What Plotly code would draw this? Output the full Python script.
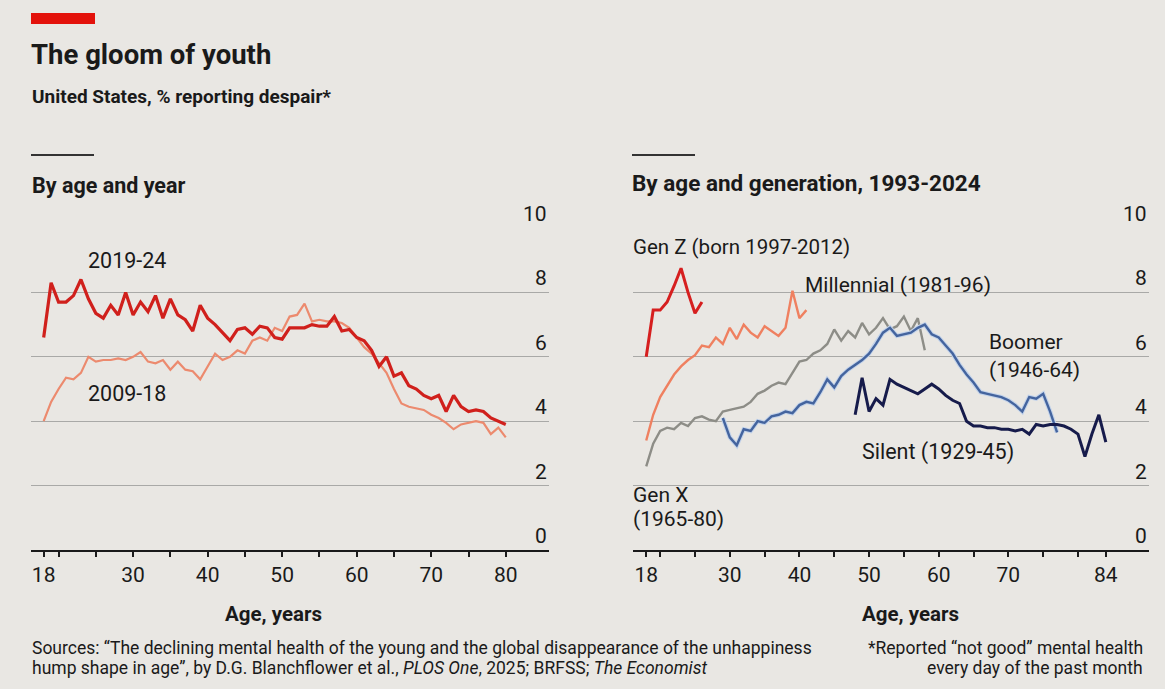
import plotly.graph_objects as go

W, H = 1165, 689

# ---------------- data ----------------
ages_by_year = list(range(18, 81))
despair_2019_24 = [6.6, 8.3, 7.7, 7.7, 7.9, 8.4, 7.8, 7.35, 7.2, 7.6,
                   7.3, 8.0, 7.3, 7.7, 7.4, 7.9, 7.2, 7.8, 7.3, 7.15,
                   6.8, 7.6, 7.2, 7.0, 6.75, 6.5, 6.85, 6.9, 6.7, 6.95,
                   6.9, 6.6, 6.55, 6.9, 6.9, 6.9, 7.0, 6.95, 6.95, 7.25,
                   6.8, 6.85, 6.6, 6.5, 6.2, 5.7, 6.0, 5.4, 5.5, 5.1,
                   5.0, 4.8, 4.7, 4.8, 4.3, 4.8, 4.45, 4.3, 4.35, 4.3,
                   4.1, 4.0, 3.9]
despair_2009_18 = [4.0, 4.6, 5.0, 5.35, 5.3, 5.5, 6.0, 5.85, 5.9, 5.9,
                   5.95, 5.9, 6.0, 6.15, 5.85, 5.8, 5.9, 5.6, 5.85, 5.6,
                   5.55, 5.3, 5.7, 6.1, 5.9, 6.0, 6.2, 6.1, 6.5, 6.6,
                   6.5, 6.9, 6.8, 7.25, 7.3, 7.65, 7.1, 7.15, 7.1, 7.1,
                   7.05, 6.9, 6.6, 6.3, 6.1, 5.8, 5.5, 5.0, 4.55, 4.45,
                   4.4, 4.35, 4.2, 4.1, 3.95, 3.75, 3.9, 3.95, 4.0, 3.95,
                   3.6, 3.8, 3.5]

genz_ages = list(range(18, 27))
genz = [6.0, 7.45, 7.45, 7.7, 8.2, 8.75, 8.0, 7.35, 7.7]

millennial_ages = list(range(18, 42))
millennial = [3.4, 4.2, 4.75, 5.1, 5.45, 5.7, 5.9, 6.05, 6.35, 6.3,
              6.6, 6.4, 6.9, 6.55, 7.0, 6.75, 6.6, 6.95, 6.8, 6.65,
              6.9, 8.05, 7.2, 7.45]

genx_ages = list(range(18, 59))
genx = [2.6, 3.3, 3.7, 3.8, 3.75, 3.95, 3.85, 4.1, 4.15, 4.05,
        4.0, 4.3, 4.35, 4.4, 4.45, 4.6, 4.85, 4.95, 5.1, 5.2,
        5.15, 5.5, 5.85, 5.9, 6.1, 6.2, 6.4, 6.85, 6.5, 6.8,
        6.6, 7.05, 6.7, 6.9, 7.2, 6.85, 6.95, 7.25, 6.8, 7.2,
        6.2]

boomer_ages = list(range(29, 78))
boomer = [4.1, 3.5, 3.25, 3.75, 3.7, 4.0, 3.95, 4.15, 4.2, 4.3,
          4.25, 4.5, 4.6, 4.55, 4.9, 5.3, 5.05, 5.4, 5.6, 5.75,
          5.9, 6.1, 6.4, 6.75, 6.9, 6.65, 6.7, 6.75, 6.9, 7.0,
          6.7, 6.6, 6.35, 6.1, 5.75, 5.45, 5.2, 4.9, 4.85, 4.8,
          4.75, 4.65, 4.5, 4.3, 4.75, 4.7, 4.85, 4.3, 3.65]

silent_ages = list(range(48, 85))
silent = [4.2, 5.35, 4.3, 4.7, 4.5, 5.3, 5.15, 5.05, 4.95, 4.85,
          5.0, 5.15, 5.0, 4.8, 4.65, 4.55, 4.0, 3.85, 3.85, 3.8,
          3.8, 3.75, 3.75, 3.7, 3.75, 3.6, 3.9, 3.85, 3.9, 3.9,
          3.85, 3.75, 3.6, 2.9, 3.6, 4.2, 3.35]

y_ticks = [0, 2, 4, 6, 8, 10]
left_tickvals = [18, 20, 25, 30, 35, 40, 45, 50, 55, 60, 65, 70, 75, 80]
left_labelled = [18, 30, 40, 50, 60, 70, 80]
right_tickvals = [18, 20, 25, 30, 35, 40, 45, 50, 55, 60, 65, 70, 75, 80, 84]
right_labelled = [18, 30, 40, 50, 60, 70, 84]

# ---------------- style ----------------
BG = "#e9e7e3"
INK = "#1a1a1a"
FONT = "Roboto, 'Liberation Sans', sans-serif"


def px(x):
    return x / W


def py(y):
    return 1 - y / H


fig = go.Figure()

fig.add_trace(go.Scatter(x=ages_by_year, y=despair_2009_18, mode="lines",
                         line=dict(color="#ec8a6e", width=2.2),
                         xaxis="x", yaxis="y", showlegend=False))
fig.add_trace(go.Scatter(x=ages_by_year, y=despair_2019_24, mode="lines",
                         line=dict(color="#d0201c", width=3.2),
                         xaxis="x", yaxis="y", showlegend=False))

fig.add_trace(go.Scatter(x=genx_ages, y=genx, mode="lines",
                         line=dict(color="#8d8d87", width=2.4),
                         xaxis="x2", yaxis="y2", showlegend=False))
fig.add_trace(go.Scatter(x=boomer_ages, y=boomer, mode="lines",
                         line=dict(color="#c3d3ea", width=4.5),
                         xaxis="x2", yaxis="y2", showlegend=False))
fig.add_trace(go.Scatter(x=boomer_ages, y=boomer, mode="lines",
                         line=dict(color="#44649e", width=2.4),
                         xaxis="x2", yaxis="y2", showlegend=False))
fig.add_trace(go.Scatter(x=silent_ages, y=silent, mode="lines",
                         line=dict(color="#161b4b", width=3),
                         xaxis="x2", yaxis="y2", showlegend=False))
fig.add_trace(go.Scatter(x=millennial_ages, y=millennial, mode="lines",
                         line=dict(color="#ef8060", width=2.4),
                         xaxis="x2", yaxis="y2", showlegend=False))
fig.add_trace(go.Scatter(x=genz_ages, y=genz, mode="lines",
                         line=dict(color="#d61f1f", width=3),
                         xaxis="x2", yaxis="y2", showlegend=False))

ydom = [py(550), py(228)]


def xaxis_cfg(dom, rng, tickvals, labelled):
    return dict(domain=dom, range=rng, showgrid=False, zeroline=False,
                showline=True, linecolor=INK, linewidth=2,
                ticks="outside", ticklen=5, tickwidth=1.5, tickcolor=INK,
                tickvals=tickvals,
                ticktext=[str(v) if v in labelled else "" for v in tickvals],
                tickfont=dict(family=FONT, size=21, color=INK),
                ticklabelstandoff=0, fixedrange=True)


def yaxis_cfg(anchor):
    return dict(domain=ydom, range=[0, 10], anchor=anchor, tickvals=y_ticks,
                showticklabels=False, showgrid=True, gridcolor="#a9a9a7",
                gridwidth=1, zeroline=False, showline=False, ticks="",
                fixedrange=True)


fig.update_layout(
    width=W, height=H, autosize=False,
    margin=dict(l=0, r=0, t=0, b=0),
    paper_bgcolor=BG, plot_bgcolor=BG,
    font=dict(family=FONT, color=INK),
    xaxis=xaxis_cfg([px(31), px(549)], [16.3, 85.8], left_tickvals, left_labelled) | dict(anchor="y"),
    yaxis=yaxis_cfg("x"),
    xaxis2=xaxis_cfg([px(633), px(1149)], [16.1, 90.2], right_tickvals, right_labelled) | dict(anchor="y2"),
    yaxis2=yaxis_cfg("x2"),
)

ann = []

# y tick labels, right-aligned above gridlines
for xr, yr in (("x domain", "y"), ("x2 domain", "y2")):
    for v in y_ticks:
        ann.append(dict(x=1, y=v, xref=xr, yref=yr, text=str(v),
                        xanchor="right", yanchor="bottom", yshift=0, showarrow=False,
                        font=dict(family=FONT, size=21, color=INK)))


def txt(x, y, s, size=21, anchor="left", bold=False, color=INK):
    ann.append(dict(x=px(x), y=py(y), xref="paper", yref="paper",
                    text=f"<b>{s}</b>" if bold else s, showarrow=False,
                    xanchor=anchor, yanchor="middle",
                    font=dict(family=FONT, size=size, color=color)))


txt(29, 55, "The gloom of youth", size=27.5, bold=True)
txt(30, 97, "United States, % reporting despair*", size=19, bold=True)
txt(30, 185, "By age and year", size=21.5, bold=True)
txt(630, 183, "By age and generation, 1993-2024", size=22.5, bold=True)

txt(86, 260, "2019-24", size=21.5)
txt(86, 393, "2009-18", size=21.5)

txt(631, 247, "Gen Z (born 1997-2012)", size=20.5)
txt(803, 285, "Millennial (1981-96)", size=21)
txt(987, 342, "Boomer", size=21)
txt(987, 370, "(1946-64)", size=21)
txt(860, 452, "Silent (1929-45)", size=21.5)
txt(631, 495, "Gen X", size=21)
txt(631, 519, "(1965-80)", size=21)

txt(273, 614, "Age, years", size=20.5, anchor="center", bold=True)
txt(910, 614, "Age, years", size=20.5, anchor="center", bold=True)

txt(30, 648, "Sources: “The declining mental health of the young and the global disappearance of the unhappiness", size=17.5)
txt(30, 668, "hump shape in age”, by D.G. Blanchflower et al., <i>PLOS One</i>, 2025; BRFSS; <i>The Economist</i>", size=17.5)
txt(1145, 648, "*Reported “not good” mental health", size=17.5, anchor="right")
txt(1145, 668, "every day of the past month", size=17.5, anchor="right")

fig.update_layout(annotations=ann)

shapes = [
    dict(type="rect", xref="paper", yref="paper", x0=px(31), x1=px(95),
         y0=py(24), y1=py(13), fillcolor="#e3120b", line=dict(width=0)),
    dict(type="line", xref="paper", yref="paper", x0=px(31), x1=px(94),
         y0=py(155), y1=py(155), line=dict(color="#333333", width=2)),
    dict(type="line", xref="paper", yref="paper", x0=px(632), x1=px(695),
         y0=py(155), y1=py(155), line=dict(color="#333333", width=2)),
]
fig.update_layout(shapes=shapes)

fig.write_html("out.html", config=dict(displayModeBar=False),
               post_script="document.body.style.margin='0';document.body.style.background='%s';" % BG)
